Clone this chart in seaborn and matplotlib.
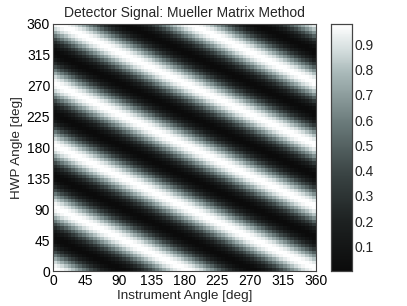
import numpy as np
import pandas as pd
import matplotlib
matplotlib.use("Agg")
import matplotlib.pyplot as plt
from matplotlib.colors import LinearSegmentedColormap
import seaborn as sns

# ---- data (sampling grid and model parameters) ----
instrument_angles = list(range(0, 360, 5))   # deg
hwp_angles = list(range(0, 360, 5))          # deg
source_pol_angle = 0.0     # deg, polarization angle of the source
source_pol_degree = 0.994  # degree of polarization
throughput = 0.983         # system transmission
x_tick_labels = [0, 45, 90, 135, 180, 225, 270, 315, 360]
y_tick_labels = [0, 45, 90, 135, 180, 225, 270, 315, 360]
cbar_ticks = [0.1, 0.2, 0.3, 0.4, 0.5, 0.6, 0.7, 0.8, 0.9]
cmap_stops = [0.0, 0.2, 0.4, 0.6, 0.8, 0.9, 1.0]
cmap_colors = ["#0b0b0b", "#1d2121", "#3b4545", "#6a7a7a", "#a8b8b8",
               "#d6dfdf", "#ffffff"]


def rot(t):
    c, s = np.cos(2 * t), np.sin(2 * t)
    return np.array([[1, 0, 0, 0], [0, c, s, 0], [0, -s, c, 0], [0, 0, 0, 1]])


def polarizer(t):
    P = 0.5 * np.array([[1, 1, 0, 0], [1, 1, 0, 0], [0, 0, 0, 0], [0, 0, 0, 0]])
    return rot(-t) @ P @ rot(t)


def hwp(t):
    W = np.diag([1, 1, -1, -1])
    return rot(-t) @ W @ rot(t)


psi = np.deg2rad(source_pol_angle)
S_in = throughput * np.array([1, source_pol_degree * np.cos(2 * psi),
                              source_pol_degree * np.sin(2 * psi), 0])

signal = np.zeros((len(hwp_angles), len(instrument_angles)))
for r, h in enumerate(hwp_angles):
    for c, ia in enumerate(instrument_angles):
        th_i = np.deg2rad(ia)
        th_h = np.deg2rad(h) + th_i
        S_out = polarizer(th_i) @ hwp(th_h) @ S_in
        signal[r, c] = S_out[0]

df = pd.DataFrame(signal, index=hwp_angles, columns=instrument_angles)

# ---- figure ----
sns.set_theme(style="white")
plt.rcParams["font.family"] = ["Liberation Sans", "DejaVu Sans"]

cmap = LinearSegmentedColormap.from_list("bone_like",
                                         list(zip(cmap_stops, cmap_colors)))

fig = plt.figure(figsize=(4.07, 3.06), dpi=100)
ax = fig.add_axes([0.130, 0.114, 0.646, 0.808])
cax = fig.add_axes([0.813, 0.114, 0.052, 0.808])

sns.heatmap(df, cmap=cmap, ax=ax, cbar_ax=cax, vmin=signal.min(),
            vmax=signal.max(), xticklabels=False, yticklabels=False,
            cbar_kws={"ticks": cbar_ticks})

step = 5.0
ax.set_xlim(0, len(instrument_angles))
ax.set_ylim(0, len(hwp_angles))
ax.set_xticks([v / step for v in x_tick_labels])
ax.set_xticklabels([str(v) for v in x_tick_labels])
ax.set_yticks([v / step for v in y_tick_labels])
ax.set_yticklabels([str(v) for v in y_tick_labels], rotation=0)

ax.tick_params(direction="in", length=3, width=0.6, top=True, right=True,
               bottom=True, left=True, labelsize=10, pad=2, colors="black")
for sp in ax.spines.values():
    sp.set_visible(True)
    sp.set_color("#444444")
    sp.set_linewidth(0.8)

ax.set_xlabel("Instrument Angle [deg]", fontsize=9.7, labelpad=1.5)
ax.set_ylabel("HWP Angle [deg]", fontsize=9.7, labelpad=2.5)
ax.set_title("Detector Signal: Mueller Matrix Method", fontsize=10, pad=5)

cax.tick_params(direction="in", length=3, width=0.6, left=True, right=True,
                labelsize=10, pad=2)
cax.set_yticklabels([f"{t:.1f}" for t in cbar_ticks])
for sp in cax.spines.values():
    sp.set_visible(True)
    sp.set_color("#444444")
    sp.set_linewidth(0.8)

fig.savefig("out.png", dpi=100)
